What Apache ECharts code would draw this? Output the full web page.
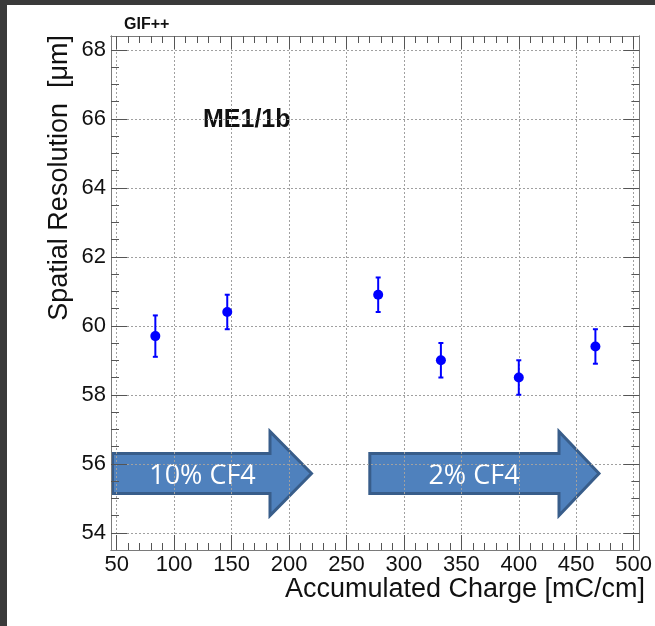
<!DOCTYPE html>
<html>
<head>
<meta charset="utf-8">
<script src="https://cdn.jsdelivr.net/npm/echarts@6/dist/echarts.min.js"></script>
<style>
html,body{margin:0;padding:0;background:#fff;}
#main{width:655px;height:626px;}
</style>
</head>
<body>
<div id="main"></div>
<script>
// ---- data ----
const charge = [83.6, 146.2, 277.6, 332.2, 400.0, 466.7];          // mC/cm
const resolution = [59.7, 60.4, 60.9, 59.0, 58.5, 59.4];           // um
const resolutionErr = [0.6, 0.5, 0.5, 0.5, 0.5, 0.5];
const xMajorTicks = [50, 100, 150, 200, 250, 300, 350, 400, 450, 500];
const yMajorTicks = [54, 56, 58, 60, 62, 64, 66, 68];
const xMinorTicks = [];
for (let v = 60; v < 500; v += 10) { if (v % 50 !== 0) xMinorTicks.push(v); }
const yMinorTicks = [];
for (let v = 54.5; v < 68; v += 0.5) { if (v % 2 !== 0) yMinorTicks.push(v); }
const arrowLabels = ['10% CF4', '2% CF4'];
const xTitle = 'Accumulated Charge [mC/cm]';
const yTitle = 'Spatial Resolution  [\u03bcm]';

// ---- chart ----
const chart = echarts.init(document.getElementById('main'), null, {renderer: 'canvas'});
const FONT = '"Liberation Sans", Arial, Helvetica, sans-serif';
const frameColor = '#7a7a7a';
const tickColor = '#555';
const gridLine = {show: true, lineStyle: {color: '#a0a0a0', width: 1, type: [2, 2]}};

function xAx(pos, ticks, len, labels, split) {
  return {
    type: 'value', gridIndex: 0, position: pos, min: 45, max: 505,
    axisLine: {show: true, lineStyle: {color: frameColor, width: 1}},
    axisTick: {show: true, inside: true, length: len, customValues: ticks, lineStyle: {color: tickColor, width: 1}},
    axisLabel: labels ? {show: true, customValues: ticks, fontSize: 22, color: '#111', fontFamily: FONT, margin: 4} : {show: false},
    splitLine: split ? gridLine : {show: false},
    minorTick: {show: false}
  };
}
function yAx(pos, ticks, len, labels, split) {
  return {
    type: 'value', gridIndex: 0, position: pos, min: 53.5, max: 68.4,
    axisLine: {show: true, lineStyle: {color: frameColor, width: 1}},
    axisTick: {show: true, inside: true, length: len, customValues: ticks, lineStyle: {color: tickColor, width: 1}},
    axisLabel: labels ? {show: true, customValues: ticks, fontSize: 22, color: '#111', fontFamily: FONT, margin: 5} : {show: false},
    splitLine: split ? gridLine : {show: false},
    minorTick: {show: false}
  };
}

const errData = charge.map((x, i) => [x, resolution[i] - resolutionErr[i], resolution[i] + resolutionErr[i]]);
const ptData = charge.map((x, i) => [x, resolution[i]]);

function arrowGroup(pts, label, cx, cy) {
  return {
    type: 'group', z: 5,
    children: [
      {type: 'polygon', shape: {points: pts}, style: {fill: '#4f81bd', stroke: '#385d8a', lineWidth: 3}},
      {type: 'text', x: cx, y: cy, style: {text: label, fill: '#fff', font: '27px "Open Sans", "Noto Sans", sans-serif', align: 'center', verticalAlign: 'middle'}}
    ]
  };
}

const option = {
  backgroundColor: '#fff',
  animation: false,
  grid: {left: 111, top: 36, right: 10, bottom: 76, containLabel: false},
  xAxis: [
    xAx('bottom', xMajorTicks, 15, true, true),
    xAx('bottom', xMinorTicks, 7, false, false),
    xAx('top', xMajorTicks, 13, false, false),
    xAx('top', xMinorTicks, 7, false, false)
  ],
  yAxis: [
    yAx('left', yMajorTicks, 16, true, true),
    yAx('left', yMinorTicks, 8, false, false),
    yAx('right', yMajorTicks, 16, false, false),
    yAx('right', yMinorTicks, 8, false, false)
  ],
  series: [
    {
      type: 'custom', xAxisIndex: 0, yAxisIndex: 0, z: 10,
      data: errData,
      renderItem: function (params, api) {
        const top = api.coord([api.value(0), api.value(2)]);
        const bot = api.coord([api.value(0), api.value(1)]);
        const w = 2.5;
        const st = {stroke: '#0000ff', lineWidth: 2};
        return {type: 'group', children: [
          {type: 'line', shape: {x1: top[0], y1: top[1], x2: bot[0], y2: bot[1]}, style: st},
          {type: 'line', shape: {x1: top[0] - w, y1: top[1], x2: top[0] + w, y2: top[1]}, style: st},
          {type: 'line', shape: {x1: bot[0] - w, y1: bot[1], x2: bot[0] + w, y2: bot[1]}, style: st}
        ]};
      }
    },
    {
      type: 'scatter', xAxisIndex: 0, yAxisIndex: 0, z: 11,
      data: ptData, symbol: 'circle', symbolSize: 10,
      itemStyle: {color: '#0000ff', opacity: 1}
    }
  ],
  graphic: [
    {type: 'rect', shape: {x: 0, y: 0, width: 655, height: 5}, style: {fill: '#3a3a3a'}, z: 20},
    {type: 'rect', shape: {x: 0, y: 0, width: 7, height: 626}, style: {fill: '#3a3a3a'}, z: 20},
    {type: 'text', x: 124, y: 25, style: {text: 'GIF++', font: 'bold 16px ' + FONT, fill: '#111', align: 'left', verticalAlign: 'middle'}},
    {type: 'text', x: 203, y: 120, style: {text: 'ME1/1b', font: 'bold 25px ' + FONT, fill: '#111', align: 'left', verticalAlign: 'middle'}},
    {type: 'text', x: 645, y: 590, style: {text: xTitle, font: '27px ' + FONT, fill: '#111', align: 'right', verticalAlign: 'middle'}},
    {type: 'text', x: 60, y: 35, rotation: Math.PI / 2, style: {text: yTitle, font: '27px ' + FONT, fill: '#111', align: 'right', verticalAlign: 'middle'}},
    arrowGroup([[112.5, 453.5], [270, 453.5], [270, 431.5], [311.5, 473.5], [270, 515.5], [270, 493.5], [112.5, 493.5]], arrowLabels[0], 202.5, 476),
    arrowGroup([[369.8, 453.5], [559, 453.5], [559, 431.5], [599, 473.5], [559, 515.5], [559, 493.5], [369.8, 493.5]], arrowLabels[1], 474, 476)
  ]
};
chart.setOption(option);
</script>
</body>
</html>
